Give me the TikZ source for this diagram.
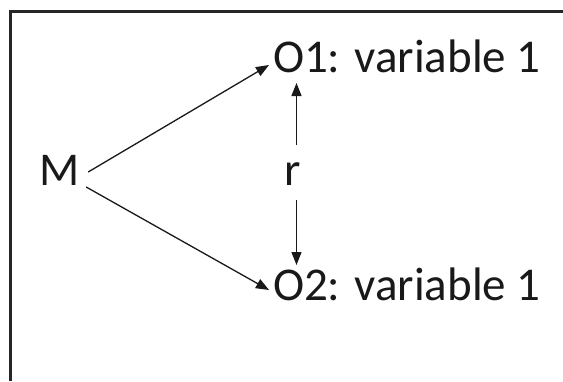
\documentclass[tikz,border=0pt]{standalone}
\usepackage{fontspec}
\setmainfont{Carlito}
\usetikzlibrary{arrows.meta,calc}
\tikzset{
  lbl/.style={inner sep=0pt, outer sep=0pt, font=\fontsize{47}{56}\selectfont, text=black!90},
  arr/.style={line width=1.3pt, draw=black!90, -{Triangle[length=13pt,width=10pt]}},
  frame/.style={line width=2.2pt, draw=black!85}
}
\begin{document}
\begin{tikzpicture}[x=1pt,y=-1pt]
\useasboundingbox (0,0) rectangle (563,381);
\fill[white] (0,0) rectangle (563,381);
\coordinate (fb) at (10.5,381);
\coordinate (fc) at (10.5,11.5);
\coordinate (fr) at (563,11.5);
\draw[frame] (fb) -- (fc) -- (fr);
\node[lbl, anchor=base west] (M) at (39,185) {M};
\node[lbl, anchor=base west] (O1) at (273,72) {O1: variable 1};
\node[lbl, anchor=base west] (O2) at (273,300) {O2: variable 1};
\node[lbl, anchor=base] (r) at (293,185) {r};
\draw[arr] ($(M.base east)+(9,-13)$) -- ($(O1.base west)+(-4,-7)$);
\draw[arr] ($(M.base east)+(7,2)$) -- ($(O2.base west)+(-4,-10)$);
\draw[arr] ($(r.base)+(3.5,-40)$) -- ($(O1.base west)+(23.5,11)$);
\draw[arr] ($(r.base)+(3.5,15)$) -- ($(O2.base west)+(23.5,-35)$);
\end{tikzpicture}
\end{document}
